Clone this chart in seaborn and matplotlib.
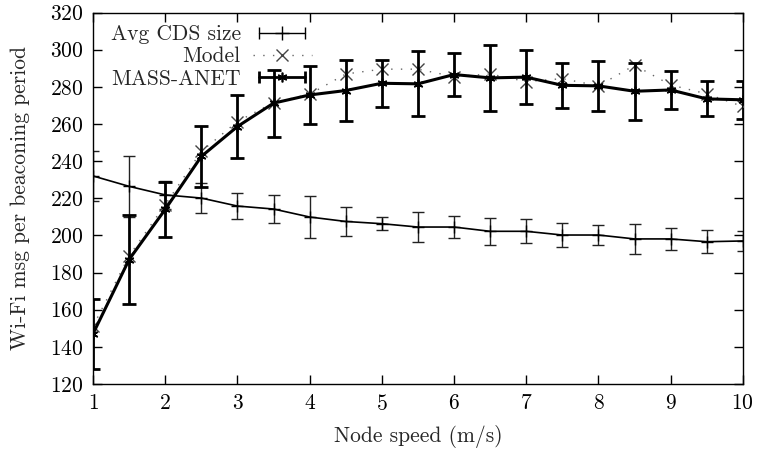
import matplotlib
matplotlib.use("Agg")
import pandas as pd
from matplotlib import pyplot as plt
from matplotlib.lines import Line2D
from matplotlib.legend_handler import HandlerLine2D, HandlerTuple
import seaborn as sns

# values
speed = [1, 1.5, 2, 2.5, 3, 3.5, 4, 4.5, 5, 5.5, 6, 6.5, 7, 7.5, 8, 8.5, 9, 9.5, 10]
avg_cds = [232, 226.4, 221.8, 220.1, 215.8, 214.2, 209.9, 207.5, 206.3, 204.5,
           204.5, 202.2, 202.2, 200.2, 200.2, 198.1, 198.1, 196.6, 197.0]
avg_cds_err = [13.5, 16.5, 7.5, 8, 7.2, 7.6, 11.2, 7.6, 3.4, 8.1,
               6.1, 7.2, 6.5, 6.5, 5.4, 7.9, 6.1, 6.2, 5.4]
model = [151, 189, 216.5, 245.2, 261.3, 271.5, 276, 286.9, 289.5, 289.5,
         285.5, 286.9, 282.8, 284.4, 280.5, 291.6, 281, 276.2, 269.4]
mass_anet = [147, 187, 214, 242.5, 258.6, 271.2, 275.6, 278, 281.9, 281.6,
             286.6, 284.8, 285.2, 280.8, 280.5, 277.6, 278.3, 273.5, 273]
mass_anet_err = [19, 24, 15, 16.5, 17, 18, 15.7, 16.5, 12.8, 17.5,
                 11.5, 17.7, 14.7, 12, 13.5, 15.3, 10, 9.4, 10.3]

df = pd.DataFrame({"speed": speed, "avg_cds": avg_cds, "model": model, "mass": mass_anet})

sns.set_style("ticks")
plt.rcParams["font.family"] = ["cmr10", "DejaVu Serif"]
plt.rcParams["axes.formatter.use_mathtext"] = True
fs = 15.5
plt.rcParams["font.size"] = fs

fig = plt.figure(figsize=(7.58, 4.5), dpi=100)
ax = fig.add_axes([0.1227, 0.1467, 0.8573, 0.8255])

# Avg CDS size: thin line, + markers, error bars
ax.errorbar(speed, avg_cds, yerr=avg_cds_err, fmt="none", ecolor="#222222",
            elinewidth=1.0, capsize=4, capthick=1.0, zorder=2)
sns.lineplot(data=df, x="speed", y="avg_cds", ax=ax, color="black", lw=1.2,
             marker="+", markersize=9, markeredgewidth=1.0,
             markeredgecolor="black", zorder=3)

# Model: dotted grey line with x markers
sns.lineplot(data=df, x="speed", y="model", ax=ax, color="#666666", lw=1.0,
             linestyle=(0, (1, 6)), marker="x", markersize=9,
             markeredgewidth=1.0, markeredgecolor="#444444", zorder=4)

# MASS-ANET: thick line, * markers, thick error bars
ax.errorbar(speed, mass_anet, yerr=mass_anet_err, fmt="none", ecolor="black",
            elinewidth=2.0, capsize=5, capthick=2.0, zorder=5)
sns.lineplot(data=df, x="speed", y="mass", ax=ax, color="black", lw=2.2,
             marker=(6, 2, 0), markersize=7, markeredgewidth=1.2,
             markeredgecolor="black", zorder=6)

ax.set_xlim(1, 10)
ax.set_ylim(120, 320)
ax.set_xticks(range(1, 11))
ax.set_yticks(range(120, 321, 20))
ax.set_xlabel("Node speed (m/s)", labelpad=8, fontsize=fs)
ax.set_ylabel("Wi-Fi msg per beaconing period", labelpad=14, fontsize=fs)
ax.tick_params(direction="in", length=6.5, width=1, top=True, right=True,
               labelsize=fs, pad=7, colors="black")
for s in ax.spines.values():
    s.set_visible(True)
    s.set_linewidth(1.0)
    s.set_color("black")

# gnuplot-style legend: label on the left, sample with caps on the right
cds_caps = Line2D([], [], color="black", lw=1.0, marker="|", markersize=9, markeredgewidth=1.0)
cds_mid = Line2D([], [], color="black", lw=0, marker="+", markersize=10, markeredgewidth=1.0)
model_h = Line2D([], [], color="#666666", lw=1.0, linestyle=(0, (1, 6)),
                 marker="x", markersize=8, markeredgewidth=1.0, markeredgecolor="#444444")
mass_caps = Line2D([], [], color="black", lw=2.0, marker="|", markersize=9, markeredgewidth=2.0)
mass_mid = Line2D([], [], color="black", lw=0, marker=(6, 2, 0), markersize=7, markeredgewidth=1.2)

leg = ax.legend([(cds_caps, cds_mid), model_h, (mass_caps, mass_mid)],
                ["Avg CDS size", "Model", "MASS-ANET"],
                handler_map={tuple: HandlerTuple(ndivide=1),
                             cds_caps: HandlerLine2D(numpoints=2),
                             mass_caps: HandlerLine2D(numpoints=2)},
                numpoints=1, markerfirst=False, frameon=False,
                loc="upper right", bbox_to_anchor=(0.35, 0.99),
                borderaxespad=0.2, borderpad=0.2, handlelength=2.75,
                handletextpad=0.55, labelspacing=0.12, fontsize=fs)

fig.savefig("out.png", dpi=100)
